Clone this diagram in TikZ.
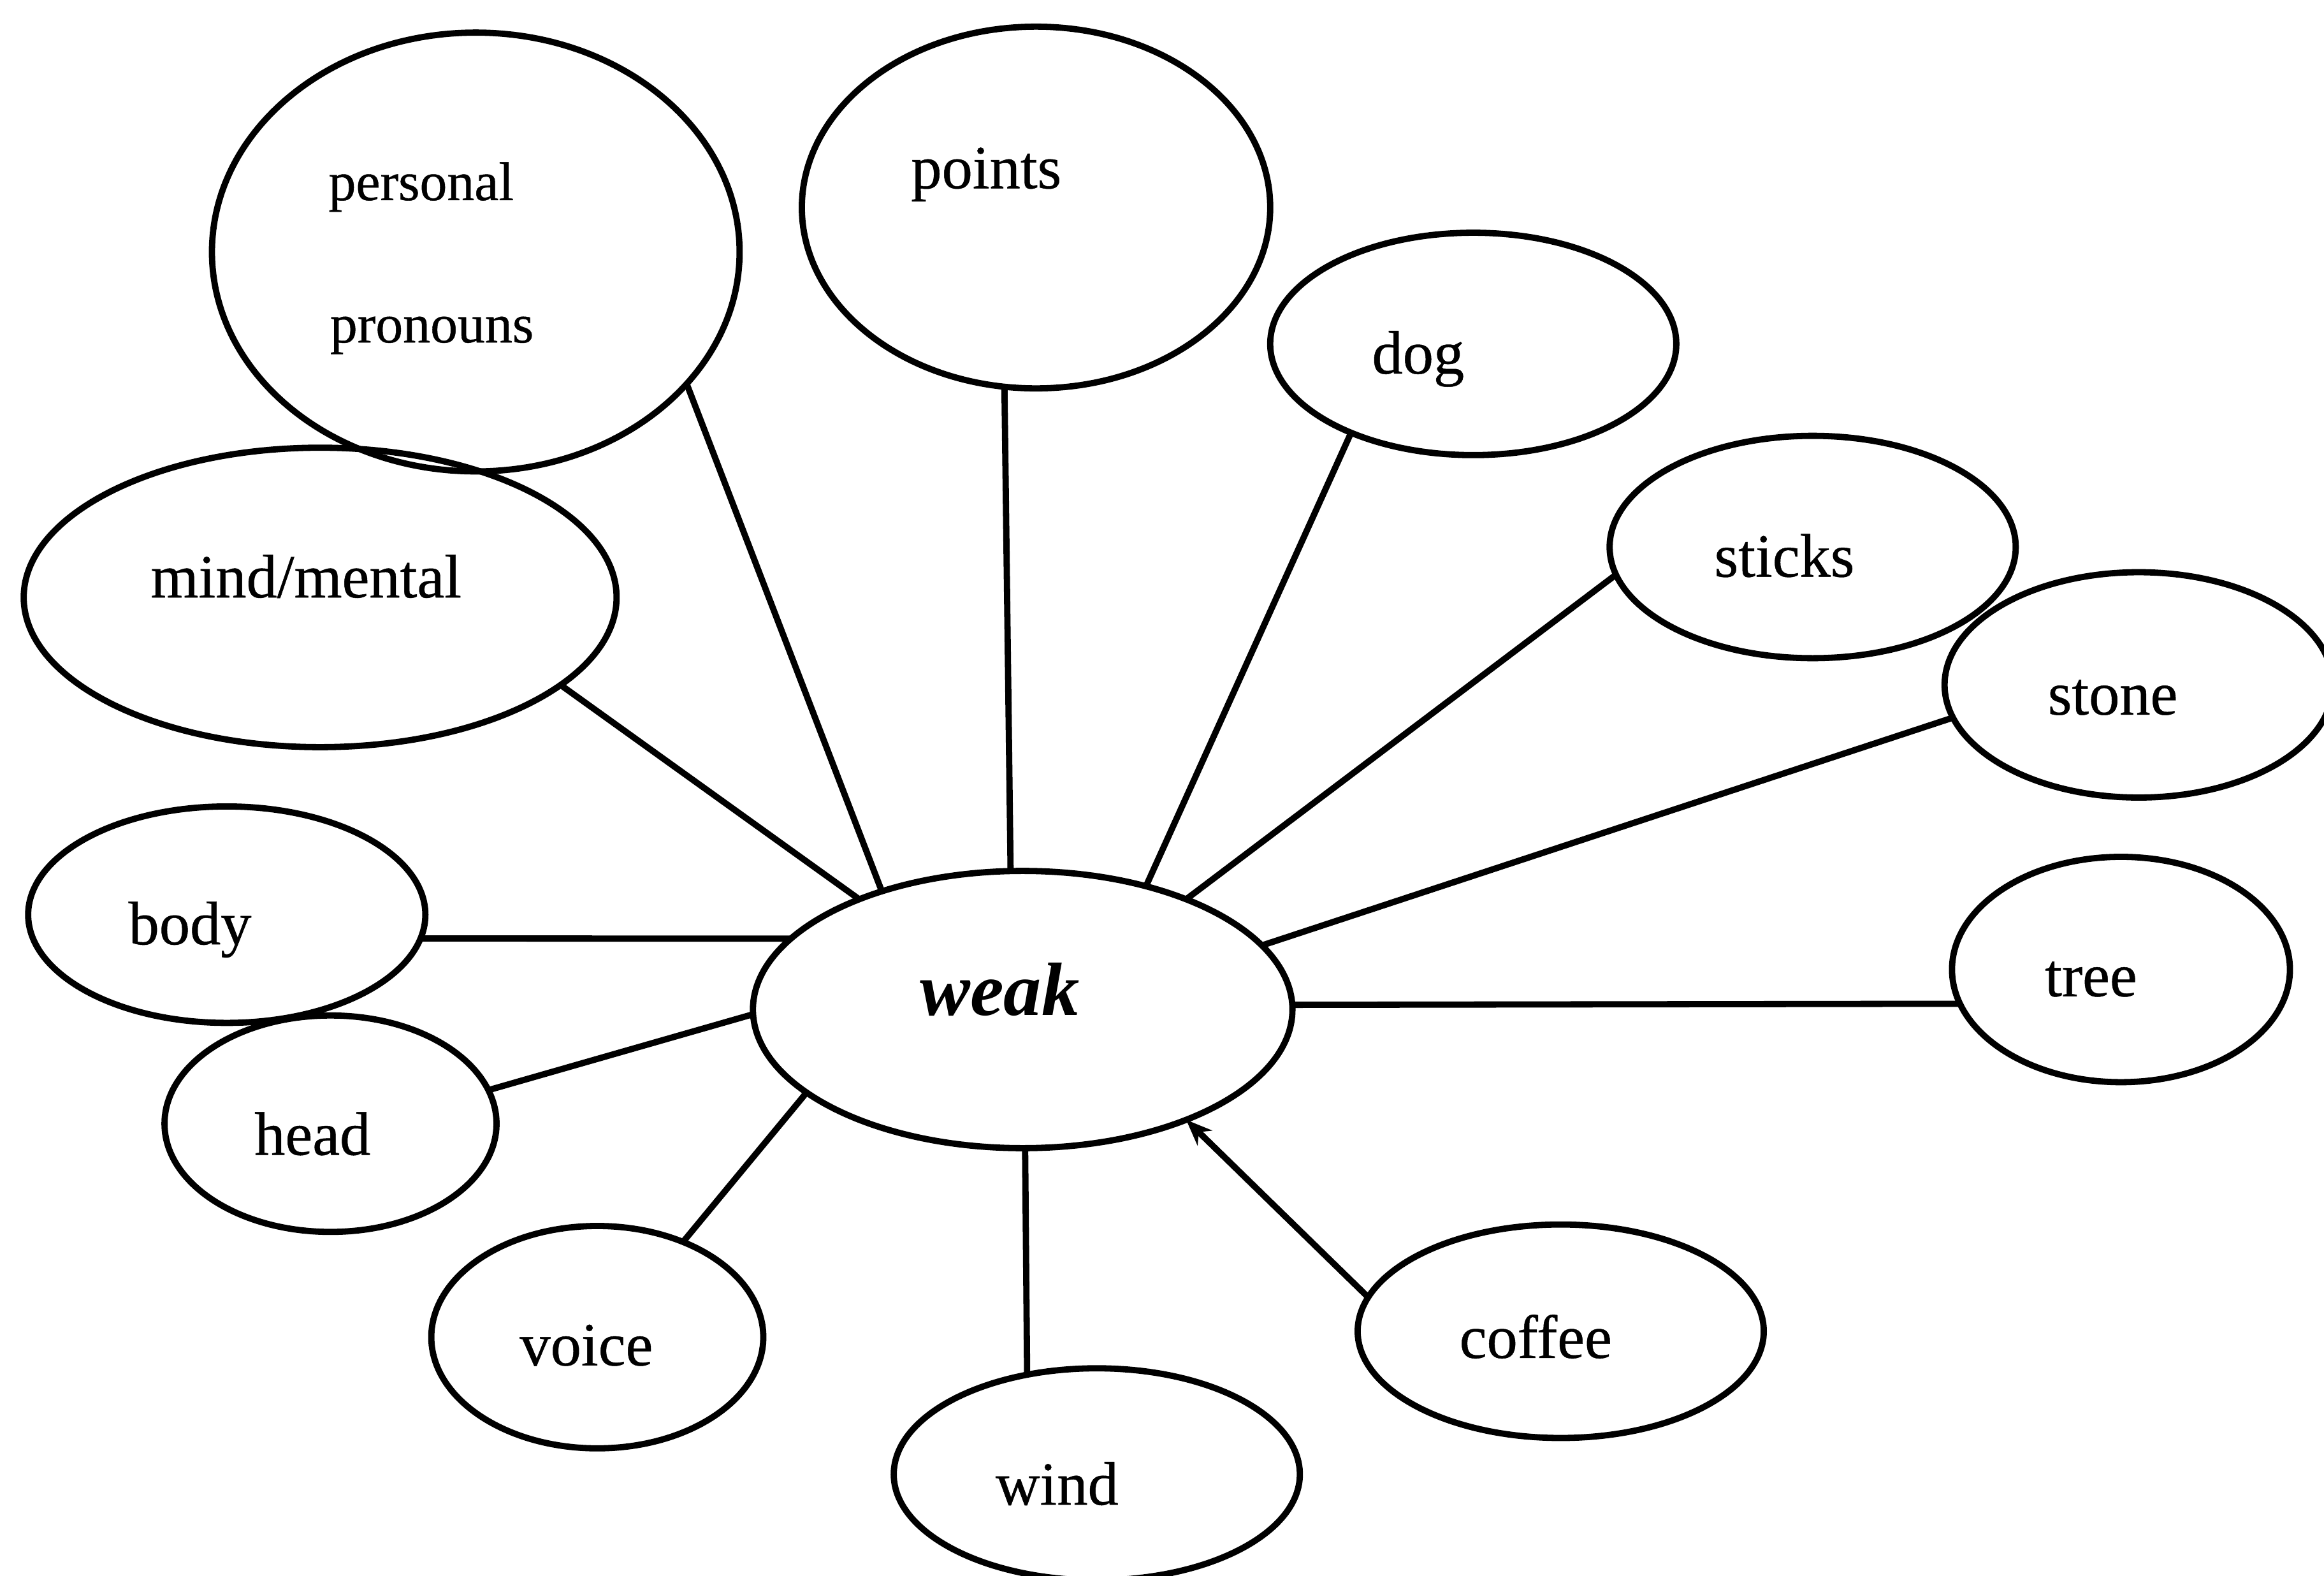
\documentclass[tikz,border=0pt]{standalone}
\usepackage{fontspec}
\setmainfont{Liberation Serif}
\newfontface\inkfont{Liberation Serif}[FakeBold=0.5]
\usetikzlibrary{shapes.geometric, arrows.meta}

\begin{document}
\begin{tikzpicture}[
    x=1cm, y=-1cm,
    bubble/.style={ellipse, draw, line width=1.2pt, inner sep=0pt, outer sep=0pt},
    word/.style={anchor=base west, inner sep=0pt, font=\inkfont\fontsize{11.8}{14}\selectfont},
    link/.style={line width=1.2pt}
]
    \useasboundingbox (0,0) rectangle (15.68,10.63);

    % Centre
    \node[bubble, minimum width=3.64cm, minimum height=1.87cm] (weak) at (6.90,6.81) {};
    \node[word, font=\fontsize{14.5}{16}\selectfont\bfseries\itshape] (weakt) at (6.20,6.85) {weak};

    % Upper bubbles
    \node[bubble, minimum width=3.56cm, minimum height=2.96cm] (pp) at (3.21,1.70) {};
    \node[word, font=\inkfont\fontsize{10.5}{12}\selectfont] (ppa) at (2.21,1.35) {personal};
    \node[word, font=\inkfont\fontsize{10.5}{12}\selectfont] (ppb) at (2.22,2.31) {pronouns};

    \node[bubble, minimum width=3.16cm, minimum height=2.44cm] (points) at (6.99,1.40) {};
    \node[word] (pointst) at (6.14,1.27) {points};

    \node[bubble, minimum width=2.74cm, minimum height=1.50cm] (dog) at (9.94,2.32) {};
    \node[word] (dogt) at (9.25,2.52) {dog};

    \node[bubble, minimum width=4.00cm, minimum height=2.02cm] (mind) at (2.16,4.03) {};
    \node[word] (mindt) at (1.01,4.03) {mind/mental};

    % Right bubbles
    \node[bubble, minimum width=2.74cm, minimum height=1.50cm] (sticks) at (12.23,3.69) {};
    \node[word] (stickst) at (11.56,3.89) {sticks};

    \node[bubble, minimum width=2.62cm, minimum height=1.52cm] (stone) at (14.43,4.62) {};
    \node[word] (stonet) at (13.81,4.82) {stone};

    \node[bubble, minimum width=2.28cm, minimum height=1.52cm] (tree) at (14.31,6.54) {};
    \node[word] (treet) at (13.79,6.72) {tree};

    % Lower bubbles
    \node[bubble, minimum width=2.74cm, minimum height=1.44cm] (coffee) at (10.53,8.98) {};
    \node[word] (coffeet) at (9.84,9.16) {coffee};

    \node[bubble, minimum width=2.74cm, minimum height=1.43cm] (wind) at (7.40,9.945) {};
    \node[word] (windt) at (6.71,10.15) {wind};

    \node[bubble, minimum width=2.24cm, minimum height=1.50cm] (voice) at (4.03,9.02) {};
    \node[word] (voicet) at (3.50,9.21) {voice};

    % Left bubbles
    \node[bubble, minimum width=2.24cm, minimum height=1.46cm] (head) at (2.23,7.58) {};
    \node[word] (headt) at (1.71,7.79) {head};

    \node[bubble, minimum width=2.68cm, minimum height=1.46cm] (body) at (1.53,6.17) {};
    \node[word] (bodyt) at (0.86,6.37) {body};

    % Connectors
    \draw[link] (pp.-32) -- (weak.140);
    \draw[link] (points.-100) -- (weak.95);
    \draw[link] (dog.-144) -- (weak.45);
    \draw[link] (sticks.188) -- (weak.34);
    \draw[link] (stone.190) -- (weak.15);
    \draw[link] (tree.192) -- (weak.1);
    \draw[link, -{Stealth[length=5pt, width=4pt]}] (coffee.170) -- (weak.-34);
    \draw[link] (wind.125) -- (weak.-89);
    \draw[link] (voice.48) -- (weak.-159);
    \draw[link] (head.12) -- (weak.181);
    \draw[link] (body.-7) -- (weak.163);
    \draw[link] (mind.-20) -- (weak.146);
\end{tikzpicture}
\end{document}
